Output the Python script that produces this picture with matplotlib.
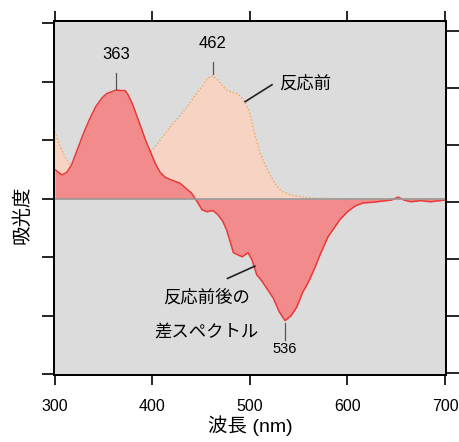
import matplotlib
matplotlib.use('Agg')
import matplotlib.pyplot as plt
import numpy as np

plt.rcParams['font.family'] = ['Liberation Sans', 'Noto Sans CJK JP', 'DejaVu Sans']

# 反応前 spectrum (before reaction)
mae_x = [300, 305, 310, 315, 318, 325, 340, 360, 380, 400, 410, 420, 430, 440, 450, 457, 462,
         467, 472, 476, 482, 488, 495, 500, 505, 510, 515, 520, 525, 531, 541, 555, 570, 600, 650, 700]
mae_y = [1.15, 0.9, 0.72, 0.6, 0.57, 0.58, 0.62, 0.68, 0.74, 0.84, 1.05, 1.27, 1.45, 1.68, 1.9, 2.07, 2.1,
         2.03, 1.93, 1.86, 1.82, 1.79, 1.66, 1.45, 1.1, 0.8, 0.6, 0.42, 0.28, 0.15, 0.07, 0.03, 0.01, 0.0, 0.0, 0.0]

# 差スペクトル (difference spectrum)
sa_x = [300, 307, 312, 317, 322, 330, 336, 342, 348, 353, 358, 363, 368, 372, 375, 380, 387, 393, 397,
        403, 408, 413, 418, 428, 435, 440, 444, 451, 456, 462, 467, 472, 476, 480, 483, 488, 492, 498,
        502, 507, 512, 518, 524, 530, 536, 542, 548, 554, 560, 566, 572, 580, 592, 600, 608, 616, 625,
        635, 645, 652, 658, 665, 675, 685, 695, 700]
sa_y = [0.5, 0.41, 0.45, 0.58, 0.8, 1.15, 1.38, 1.58, 1.72, 1.8, 1.83, 1.86, 1.85, 1.85, 1.78, 1.6, 1.28,
        1.0, 0.84, 0.6, 0.45, 0.37, 0.33, 0.27, 0.17, 0.1, 0.0, -0.19, -0.22, -0.2, -0.27, -0.38, -0.53,
        -0.75, -0.92, -0.96, -0.99, -0.92, -1.04, -1.3, -1.4, -1.55, -1.7, -1.93, -2.08, -2.0, -1.85, -1.6,
        -1.42, -1.2, -0.95, -0.65, -0.36, -0.22, -0.12, -0.07, -0.06, -0.04, -0.02, 0.03, -0.02, -0.05,
        -0.03, -0.05, -0.03, -0.02]

xticks = [300, 400, 500, 600, 700]

fig = plt.figure(figsize=(4.59, 4.42), dpi=100)
ax = fig.add_axes([0.1176, 0.1516, 0.854, 0.801])
ax.set_facecolor('#dcdcdc')

# 反応前 under the difference spectrum
ax.fill_between(mae_x, mae_y, 0, color='#f7d3c4', lw=0, zorder=1)
ax.plot(mae_x, mae_y, color='#f0a860', lw=1.0, ls=(0, (1, 1.5)), zorder=2)
ax.fill_between(sa_x, sa_y, 0, color='#f28b8b', lw=0, zorder=3)
ax.plot(sa_x, sa_y, color='#e83a3a', lw=1.1, zorder=4)
ax.axhline(0, color='#999999', lw=1.2, zorder=5)

ax.set_xlim(299, 701)
ax.set_ylim(-3.01, 3.04)
ax.set_xticks(xticks)
ax.set_yticks(range(-3, 4))
ax.tick_params(axis='x', direction='out', length=7, width=1.2, labelsize=11.5, top=True, pad=10)
ax.tick_params(axis='y', direction='out', length=9, width=1.2, labelleft=False)
for s in ax.spines.values():
    s.set_linewidth(1.3)

ax2 = ax.twinx()
ax2.set_ylim(-3.035, 3.175)
ax2.set_yticks(range(-3, 4))
ax2.tick_params(axis='y', direction='out', length=9, width=1.2, labelright=False)
for s in ax2.spines.values():
    s.set_linewidth(1.3)

# ピーク
ax.text(363, 2.34, '363', ha='center', va='bottom', fontsize=12, zorder=6)
ax.plot([363, 363], [1.88, 2.15], color='#555555', lw=0.9, zorder=6)
ax.text(462, 2.52, '462', ha='center', va='bottom', fontsize=12, zorder=6)
ax.plot([462, 462], [2.13, 2.34], color='#555555', lw=0.9, zorder=6)
ax.text(536, -2.45, '536', ha='center', va='top', fontsize=10.5, zorder=6)
ax.plot([536, 536], [-2.13, -2.42], color='#555555', lw=0.9, zorder=6)

ax.text(530, 1.98, '反応前', ha='left', va='center', fontsize=12.5, zorder=6)
ax.plot([495, 522.6], [1.66, 1.95], color='#222222', lw=1.2, zorder=6)
ax.text(455, -1.69, '反応前後の', ha='center', va='center', fontsize=12.5, zorder=6)
ax.text(455, -2.27, '差スペクトル', ha='center', va='center', fontsize=12.5, zorder=6)
ax.plot([477, 505], [-1.36, -1.15], color='#222222', lw=1.2, zorder=6)

fig.text(0.048, 0.515, '吸光度', rotation=90, ha='center', va='center', fontsize=14)
fig.text(0.545, 0.038, '波長 (nm)', ha='center', va='center', fontsize=14)

fig.savefig('out.png', dpi=100)
